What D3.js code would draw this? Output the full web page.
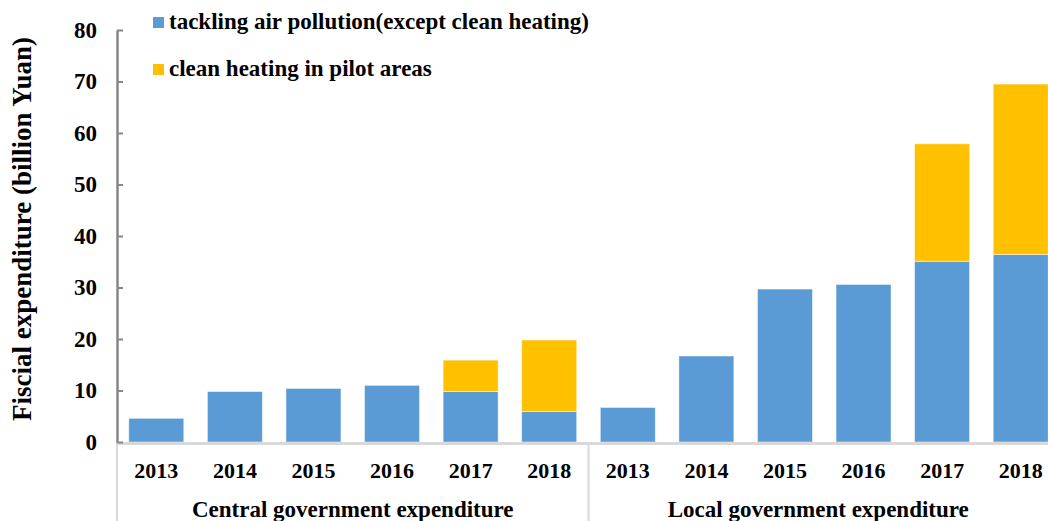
<!DOCTYPE html>
<html>
<head>
<meta charset="utf-8">
<script src="https://cdn.jsdelivr.net/npm/d3@7"></script>
<style>
  body { margin: 0; background: #fff; }
  text { font-family: "Liberation Serif", "Times New Roman", serif; font-weight: bold; fill: #000; }
</style>
</head>
<body>
<div id="chart"></div>
<script>
// data (billion Yuan)
const groupNames = ["Central government expenditure", "Local government expenditure"];
const years = ["2013", "2014", "2015", "2016", "2017", "2018"];
const airCentral = [4.6, 9.8, 10.4, 11.0, 9.8, 5.9];
const airLocal = [6.7, 16.7, 29.7, 30.6, 35.1, 36.4];
const heatCentral = [0, 0, 0, 0, 6.1, 13.9];
const heatLocal = [0, 0, 0, 0, 22.8, 33.1];
const seriesNames = ["tackling air pollution(except clean heating)", "clean heating in pilot areas"];
const seriesColors = ["#5B9BD5", "#FFC000"];
const yTicks = [0, 10, 20, 30, 40, 50, 60, 70, 80];

const W = 1048, H = 521;
const plotLeft = 117, plotRight = 1060, plotTop = 30, plotBottom = 442;

// build rows
const rows = [];
groupNames.forEach((g, gi) => {
  years.forEach((yr, i) => {
    rows.push({
      key: g + "|" + yr,
      group: g,
      year: yr,
      air: gi === 0 ? airCentral[i] : airLocal[i],
      heat: gi === 0 ? heatCentral[i] : heatLocal[i]
    });
  });
});

const x = d3.scaleBand()
  .domain(rows.map(d => d.key))
  .range([plotLeft, plotRight])
  .paddingInner(0.3)
  .paddingOuter(0.15);

const y = d3.scaleLinear()
  .domain([0, 80])
  .range([plotBottom, plotTop]);

const stack = d3.stack().keys(["air", "heat"]);
const layers = stack(rows);

const svg = d3.select("#chart").append("svg")
  .attr("width", W)
  .attr("height", H);

// bars
svg.append("g").selectAll("g")
  .data(layers)
  .join("g")
    .attr("fill", (d, i) => seriesColors[i])
  .selectAll("rect")
  .data(d => d.filter(p => p[1] - p[0] > 0))
  .join("rect")
    .attr("x", d => x(d.data.key))
    .attr("width", x.bandwidth())
    .attr("y", d => y(d[1]))
    .attr("height", d => y(d[0]) - y(d[1]))
    .attr("stroke", "#fff")
    .attr("stroke-opacity", 0.6)
    .attr("stroke-width", 0.8);

// x axis line + category separators
const step = x.step();
const sepX = [plotLeft, x(rows[6].key) - x.paddingInner() * step / 2];
svg.append("line")
  .attr("x1", plotLeft).attr("x2", W)
  .attr("y1", plotBottom + 1.5).attr("y2", plotBottom + 1.5)
  .attr("stroke", "#d9d9d9")
  .attr("stroke-width", 3);

svg.selectAll(".sep")
  .data(sepX)
  .join("line")
    .attr("class", "sep")
    .attr("x1", d => d).attr("x2", d => d)
    .attr("y1", plotBottom).attr("y2", H)
    .attr("stroke", "#d9d9d9")
    .attr("stroke-width", 2);

// year labels
svg.selectAll(".yr")
  .data(rows)
  .join("text")
    .attr("class", "yr")
    .attr("text-anchor", "middle")
    .attr("x", d => x(d.key) + x.bandwidth() / 2)
    .attr("y", 478)
    .style("font-size", "22px")
    .text(d => d.year);

// group labels, centred on the visible part of each group
svg.selectAll(".grp")
  .data(groupNames)
  .join("text")
    .attr("class", "grp")
    .attr("text-anchor", "middle")
    .attr("x", (d, i) => {
      const a = sepX[i];
      const b = i === 0 ? sepX[1] : Math.min(plotRight, W);
      return (a + b) / 2;
    })
    .attr("y", 517)
    .style("font-size", "23px")
    .text(d => d);

// y axis
const yAxis = svg.append("g")
  .attr("transform", "translate(" + plotLeft + ",0)")
  .call(d3.axisLeft(y).tickValues(yTicks).tickSizeInner(-6).tickSizeOuter(0).tickPadding(20));
yAxis.select(".domain").attr("stroke", "#878787").attr("stroke-width", 2.5);
yAxis.selectAll(".tick line").attr("stroke", "#878787").attr("stroke-width", 2);
yAxis.selectAll(".tick text")
  .style("font-size", "23px")
  .style("font-family", "'Liberation Serif', serif")
  .style("font-weight", "bold")
  .attr("fill", "#000");

// y title
svg.append("text")
  .attr("transform", "translate(31," + 229 + ") rotate(-90)")
  .attr("text-anchor", "middle")
  .style("font-size", "27px")
  .text("Fiscial expenditure (billion Yuan)");

// legend
const legend = svg.append("g").selectAll("g")
  .data(seriesNames)
  .join("g")
    .attr("transform", (d, i) => "translate(153," + (17 + i * 47) + ")");
legend.append("rect")
  .attr("width", 11).attr("height", 11)
  .attr("fill", (d, i) => seriesColors[i]);
legend.append("text")
  .attr("x", 16)
  .attr("y", 11.5)
  .style("font-size", "23px")
  .text(d => d);
</script>
</body>
</html>
